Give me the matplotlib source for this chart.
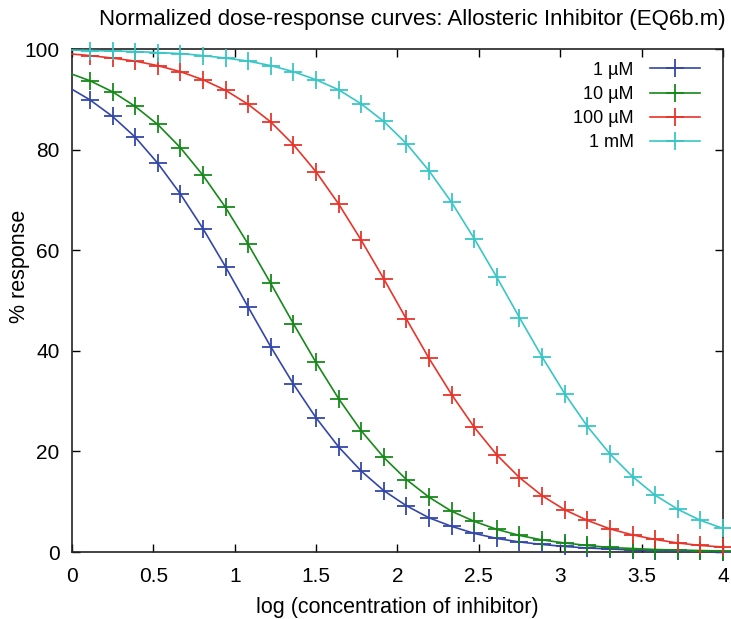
import numpy as np
import matplotlib
matplotlib.use("Agg")
import matplotlib.pyplot as plt

plt.rcParams["font.family"] = ["Liberation Sans", "DejaVu Sans"]

# log concentration where the markers sit (line also starts at x=0)
x_start = 0.0
x_marks = np.linspace(0.11, 4.0, 29)

labels = ["1 \u00b5M", "10 \u00b5M", "100 \u00b5M", "1 mM"]
colors = ["#3347a8", "#16891a", "#e8342a", "#38c6c6"]

start_vals = [92.0, 95.0, 99.0, 99.8]

resp_1uM = [89.9, 86.6, 82.5, 77.3, 71.2, 64.3, 56.7, 48.7, 40.8, 33.4,
            26.7, 20.9, 16.1, 12.2, 9.2, 6.8, 5.1, 3.7, 2.7, 2.0,
            1.5, 1.1, 0.8, 0.6, 0.4, 0.3, 0.2, 0.15, 0.1]
resp_10uM = [93.7, 91.5, 88.6, 85.0, 80.4, 74.9, 68.5, 61.2, 53.4, 45.4,
             37.7, 30.5, 24.1, 18.8, 14.4, 10.9, 8.1, 6.1, 4.5, 3.3,
             2.4, 1.8, 1.3, 0.9, 0.7, 0.5, 0.4, 0.3, 0.2]
resp_100uM = [98.7, 98.2, 97.6, 96.7, 95.5, 93.9, 91.8, 89.0, 85.5, 81.0,
              75.6, 69.2, 62.0, 54.3, 46.3, 38.5, 31.3, 24.8, 19.3, 14.8,
              11.2, 8.4, 6.3, 4.6, 3.4, 2.5, 1.8, 1.3, 1.0]
resp_1mM = [99.7, 99.6, 99.5, 99.3, 99.1, 98.7, 98.2, 97.6, 96.7, 95.5,
            93.9, 91.9, 89.1, 85.6, 81.2, 75.8, 69.5, 62.3, 54.6, 46.6,
            38.8, 31.5, 25.0, 19.5, 15.0, 11.3, 8.5, 6.3, 4.7]

series = [resp_1uM, resp_10uM, resp_100uM, resp_1mM]

fig = plt.figure(figsize=(7.31, 6.19), dpi=100)
ax = fig.add_axes([0.0985, 0.1082, 0.8905, 0.8126])

for vals, y0, lab, col in zip(series, start_vals, labels, colors):
    xs = np.concatenate([[x_start], x_marks])
    ys = np.concatenate([[y0], vals])
    ax.plot(xs, ys, color=col, lw=1.2, marker="+", markersize=13,
            markeredgewidth=1.3, markevery=list(range(1, len(xs))),
            label=lab, clip_on=False, zorder=3)

ax.set_xlim(0, 4)
ax.set_ylim(0, 100)
ax.set_xticks(np.arange(0, 4.01, 0.5))
ax.set_xticklabels(["0", "0.5", "1", "1.5", "2", "2.5", "3", "3.5", "4"])
ax.set_yticks(np.arange(0, 101, 20))
ax.tick_params(direction="in", top=True, right=True, length=6, width=1,
               labelsize=15)
ax.tick_params(axis="x", pad=11)
ax.tick_params(axis="y", pad=9)
for sp in ax.spines.values():
    sp.set_linewidth(1.2)
    sp.set_color("#222222")

fig.text(412 / 731, 1 - 19 / 619,
         "Normalized dose-response curves: Allosteric Inhibitor (EQ6b.m)",
         fontsize=16, ha="center", va="center")
ax.set_xlabel("log (concentration of inhibitor)", fontsize=15.5)
ax.xaxis.set_label_coords(0.5, -(607 - 552) / 503, transform=ax.transAxes)
ax.xaxis.label.set_va("center")
ax.set_ylabel("% response", fontsize=15.5)
ax.yaxis.set_label_coords(-(72 - 19) / 651, (552 - 266) / 503)
ax.yaxis.label.set_va("center")

leg = ax.legend(loc="upper right", frameon=False, markerfirst=False,
                fontsize=13, handlelength=2.8, labelspacing=0.4,
                borderaxespad=0.3, handletextpad=0.9,
                bbox_to_anchor=(1 - 10 / 651, 1))

fig.savefig("out.png", dpi=100)
